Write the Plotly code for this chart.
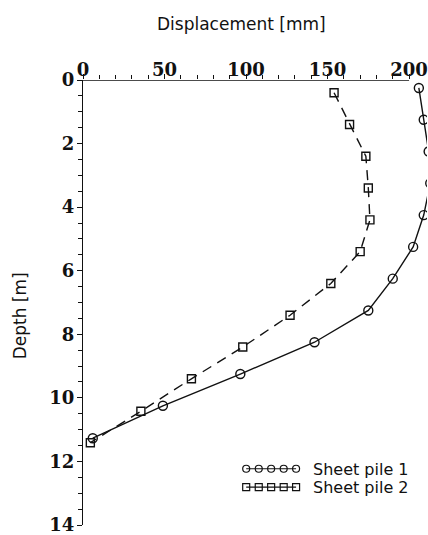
import plotly.graph_objects as go

# Data
depth_pile1 = [0.25, 1.25, 2.25, 3.25, 4.25, 5.25, 6.25, 7.25, 8.25, 9.25, 10.25, 11.27]
disp_pile1 = [206, 209, 212, 213, 209, 202.5, 190, 175, 142, 96.5, 49, 6]

depth_pile2 = [0.4, 1.4, 2.4, 3.4, 4.4, 5.4, 6.4, 7.4, 8.4, 9.4, 10.42, 11.41]
disp_pile2 = [154, 163.5, 173.5, 175, 176, 170, 152, 127, 98, 66.5, 35.5, 4.5]

series_names = ["Sheet pile 1", "Sheet pile 2"]
x_major_ticks = [0, 50, 100, 150, 200]
x_minor_ticks = [v for v in range(10, 200, 10) if v % 50 != 0]
y_major_ticks = [0, 2, 4, 6, 8, 10, 12, 14]
y_minor_ticks = [v / 2 for v in range(1, 28) if v % 4 != 0]

# legend sample positions (decoration, in data units)
legend_x = [100.1, 107.8, 115.4, 123.1, 130.7]
legend_y1 = 12.23
legend_y2 = 12.81

BLACK = "#111111"
tick_font = dict(family="DejaVu Serif", size=18, color=BLACK, weight="bold")
text_font = dict(family="DejaVu Sans", size=16, color=BLACK)

fig = go.Figure()
fig.add_trace(go.Scatter(
    x=disp_pile1, y=depth_pile1, mode="lines+markers", name=series_names[0],
    line=dict(color=BLACK, width=1.4),
    marker=dict(symbol="circle-open", size=9, color=BLACK, line=dict(width=1.4)),
    showlegend=False))
fig.add_trace(go.Scatter(
    x=disp_pile2, y=depth_pile2, mode="lines+markers", name=series_names[1],
    line=dict(color=BLACK, width=1.4, dash="10px,7px"),
    marker=dict(symbol="square-open", size=8, color=BLACK, line=dict(width=1.4)),
    showlegend=False))

# manual legend samples
fig.add_trace(go.Scatter(
    x=legend_x, y=[legend_y1] * len(legend_x), mode="lines+markers",
    line=dict(color=BLACK, width=1.2),
    marker=dict(symbol="circle-open", size=7, color=BLACK, line=dict(width=1.2)),
    showlegend=False, hoverinfo="skip"))
fig.add_trace(go.Scatter(
    x=legend_x, y=[legend_y2] * len(legend_x), mode="lines+markers",
    line=dict(color=BLACK, width=1.2),
    marker=dict(symbol="square-open", size=7, color=BLACK, line=dict(width=1.2)),
    showlegend=False, hoverinfo="skip"))

fig.add_annotation(x=0.664, y=0.125, xref="paper", yref="paper", text=series_names[0],
                   showarrow=False, xanchor="left", yanchor="middle", font=text_font)
fig.add_annotation(x=0.664, y=0.084, xref="paper", yref="paper", text=series_names[1],
                   showarrow=False, xanchor="left", yanchor="middle", font=text_font)

# axis titles
fig.add_annotation(x=0.461, y=1.125, xref="paper", yref="paper", text="Displacement [mm]",
                   showarrow=False, xanchor="center", yanchor="middle",
                   font=dict(family="DejaVu Sans", size=17, color=BLACK))
fig.add_annotation(x=-0.183, y=0.469, xref="paper", yref="paper", text="Depth [m]",
                   showarrow=False, xanchor="center", yanchor="middle", textangle=-90,
                   font=dict(family="DejaVu Sans", size=17, color=BLACK))

# x axis line only from 0 to 200
fig.add_shape(type="line", x0=0, x1=200, y0=0, y1=0, xref="x", yref="y",
              line=dict(color=BLACK, width=1.4))

fig.update_xaxes(
    range=[0, 211], side="top", showgrid=False, zeroline=False, showline=False,
    tickmode="array", tickvals=x_major_ticks, ticktext=[str(v) for v in x_major_ticks],
    ticks="outside", ticklen=5, tickwidth=1.3, tickcolor=BLACK, tickfont=tick_font,
    ticklabelstandoff=-9, ticklabeloverflow="allow",
    minor=dict(tickmode="array", tickvals=x_minor_ticks, ticks="outside", ticklen=4,
               tickwidth=1.2, tickcolor=BLACK, showgrid=False),
)
fig.update_yaxes(
    range=[14, 0], showgrid=False, zeroline=False, showline=True, linecolor=BLACK,
    linewidth=1.4, tickmode="array", tickvals=y_major_ticks,
    ticks="outside", ticklen=5, tickwidth=1.3, tickcolor=BLACK, tickfont=tick_font,
    ticklabeloverflow="allow", ticklabelstandoff=-1,
    minor=dict(tickmode="array", tickvals=y_minor_ticks, ticks="outside", ticklen=4,
               tickwidth=1.2, tickcolor=BLACK, showgrid=False),
)

fig.update_layout(
    width=428, height=535,
    margin=dict(l=83, r=0, t=80, b=7),
    paper_bgcolor="white", plot_bgcolor="white",
    showlegend=False,
)

fig.write_html("out.html")
